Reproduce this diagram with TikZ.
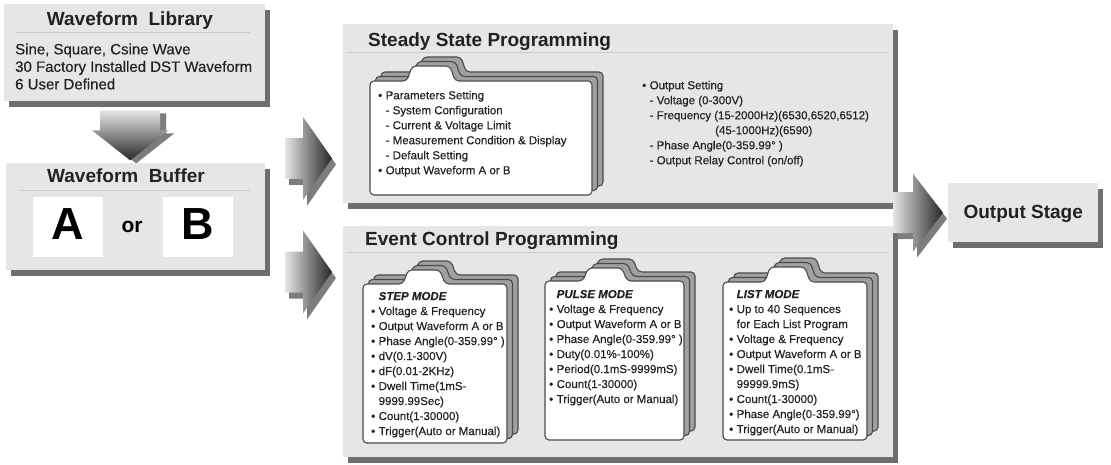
\documentclass[tikz,border=0pt]{standalone}
\usepackage{fontspec}
\setmainfont{Liberation Sans}
\newfontfamily\thickfont{Liberation Sans}[FakeBold=0.35]
\usetikzlibrary{shadows,calc}
\definecolor{panel}{HTML}{E6E6E6}
\definecolor{shade}{HTML}{6E6E6E}
\definecolor{ink}{HTML}{222222}
\definecolor{pageedge}{HTML}{4A4A4A}
\definecolor{backfill}{HTML}{A0A0A0}
\definecolor{sepline}{HTML}{CACACA}
\newcommand\bl{\makebox[7.5pt][l]{\textbullet}}
\newcommand\nb{\hspace*{7.5pt}}
\newcommand\folderpage[8]{%
  \draw[#8, rounded corners=4pt] ({#1},{#4}) -- ({#1},{#2}) -- ({#5},{#2}) -- ({#5+5},{#7}) -- ({#6},{#7}) -- ({#6+5},{#2}) -- ({#3},{#2}) -- ({#3},{#4}) -- cycle;}
\newcommand\folder[7]{%
  \folderpage{#1+11}{#2-9}{#3+11}{#4-9}{#5+11}{#6+11}{#7-9}{backpage}%
  \folderpage{#1+5.5}{#2-4.5}{#3+5.5}{#4-4.5}{#5+5.5}{#6+5.5}{#7-4.5}{backpage}%
  \folderpage{#1}{#2}{#3}{#4}{#5}{#6}{#7}{frontpage}}
\newcommand\rpath[6]{({#1},{#2-#5}) -- ({#1+#3},{#2-#5}) -- ({#1+#3},{#2-#6}) -- ({#1+#4},{#2}) -- ({#1+#3},{#2+#6}) -- ({#1+#3},{#2+#5}) -- ({#1},{#2+#5}) -- cycle}
\newcommand\dpath[6]{({#1-#5},{#2}) -- ({#1-#5},{#2+#3}) -- ({#1-#6},{#2+#3}) -- ({#1},{#2+#4}) -- ({#1+#6},{#2+#3}) -- ({#1+#5},{#2+#3}) -- ({#1+#5},{#2}) -- cycle}
\tikzset{
  panelbox/.style={fill=panel, inner sep=0pt, anchor=north west,
    drop shadow={shadow xshift=5pt, shadow yshift=-6pt, fill=shade, opacity=1}},
  ttl/.style={font=\fontsize{19}{22}\selectfont\bfseries, text=ink, inner sep=0pt, anchor=base west},
  libtxt/.style={font=\thickfont\fontsize{15}{17.5}\selectfont, text=ink, inner sep=0pt, anchor=north west, align=left},
  ftxt/.style={font=\thickfont\fontsize{11.5}{15}\selectfont, text=ink, inner sep=0pt, anchor=north west, align=left},
  bigletter/.style={font=\fontsize{45}{50}\selectfont\bfseries, text=black, inner sep=0pt, anchor=base},
  sepl/.style={draw=sepline, line width=0.8pt},
  frontpage/.style={draw=pageedge, line width=1.1pt, fill=white},
  backpage/.style={draw=pageedge, line width=1.1pt, fill=backfill},
  rarrowbody/.style={left color=gray!20, right color=black!85},
  darrowbody/.style={top color=gray!20, bottom color=black!85},
  arrowshadow/.style={fill=shade!90},
}
\begin{document}
\begin{tikzpicture}[x=1pt,y=-1pt]
\useasboundingbox (0,0) rectangle (1111,465);
% panels
\node[panelbox, minimum width=261pt, minimum height=97pt] (lib) at (4,4) {};
\node[panelbox, minimum width=259pt, minimum height=107pt] (buf) at (6,163) {};
\node[panelbox, minimum width=550pt, minimum height=179pt] (ss) at (343,24) {};
\node[panelbox, minimum width=550pt, minimum height=231pt] (ec) at (343,226) {};
\node[panelbox, minimum width=150pt, minimum height=59pt] (out) at (948,183) {};
% separators
\draw[sepl] (15,32) -- (250,32);
\draw[sepl] (20,190) -- (250,190);
\draw[sepl] (347,52) -- (888,52);
\draw[sepl] (347,252) -- (888,252);
% waveform library
\node[ttl, anchor=base] (libt) at (130,25.5) {Waveform\ \ Library};
\node[libtxt] (libx) at (15,43.3) {Sine, Square, Csine Wave\\30 Factory Installed DST Waveform\\6 User Defined};
% waveform buffer
\node[ttl, anchor=base] (buft) at (126,183) {Waveform\ \ Buffer};
\node[fill=white, inner sep=0pt, anchor=north west, minimum width=70pt, minimum height=60pt] (wa) at (33,197) {};
\node[fill=white, inner sep=0pt, anchor=north west, minimum width=70pt, minimum height=60pt] (wb) at (163,197) {};
\node[bigletter] (la) at (68,240) {A};
\node[bigletter] (lb) at (198,240) {B};
\node[font=\fontsize{21}{24}\selectfont\bfseries, text=black, inner sep=0pt, anchor=base] (lor) at (132,233) {or};
% steady state
\node[ttl] (sst) at (368,47) {Steady State Programming};
\folder{370}{81}{592}{195}{407}{450}{66}
\node[ftxt] (ssx) at (378,90.7) {\bl Parameters Setting\\\nb - System Configuration\\\nb - Current \& Voltage Limit\\\nb - Measurement Condition \& Display\\\nb - Default Setting\\\bl Output Waveform A or B};
\node[ftxt] (osx) at (642,80.7) {\bl Output Setting\\\nb - Voltage (0-300V)\\\nb - Frequency (15-2000Hz)(6530,6520,6512)\\\hspace*{73pt}(45-1000Hz)(6590)\\\nb - Phase Angle(0-359.99° )\\\nb - Output Relay Control (on/off)};
% event control
\node[ttl] (ect) at (365,246) {Event Control Programming};
\folder{363}{284}{507}{443}{403}{440}{270}
\folder{545}{281}{684}{440}{583}{622}{268}
\folder{723}{282}{867}{440}{765}{805}{267}
\node[ftxt] (stepx) at (371,291.8) {\nb\textbf{\textit{STEP MODE}}\\\bl Voltage \& Frequency\\\bl Output Waveform A or B\\\bl Phase Angle(0-359.99° )\\\bl dV(0.1-300V)\\\bl dF(0.01-2KHz)\\\bl Dwell Time(1mS-\\\nb 9999.99Sec)\\\bl Count(1-30000)\\\bl Trigger(Auto or Manual)};
\node[ftxt] (pulsex) at (549,289.8) {\nb\textbf{\textit{PULSE MODE}}\\\bl Voltage \& Frequency\\\bl Output Waveform A or B\\\bl Phase Angle(0-359.99° )\\\bl Duty(0.01\%-100\%)\\\bl Period(0.1mS-9999mS)\\\bl Count(1-30000)\\\bl Trigger(Auto or Manual)};
\node[ftxt] (listx) at (729,289.8) {\nb\textbf{\textit{LIST MODE}}\\\bl Up to 40 Sequences\\\nb for Each List Program\\\bl Voltage \& Frequency\\\bl Output Waveform A or B\\\bl Dwell Time(0.1mS-\\\nb 99999.9mS)\\\bl Count(1-30000)\\\bl Phase Angle(0-359.99°)\\\bl Trigger(Auto or Manual)};
% output stage
\node[ttl, anchor=base] (outt) at (out.center |- 0,218.5) {Output Stage};
% block arrows (connectors)
\coordinate (a1) at ($(ss.south west)+(-58,-45)$);
\coordinate (a2) at ($(ec.north west)+(-58,46)$);
\coordinate (a3) at ($(out.west)+(-55,0)$);
\coordinate (a4) at ($(lib.south)+(-4.5,9)$);
\begin{scope}[shift={(a1)}]
  \fill[arrowshadow] \rpath{4}{6}{18}{47}{20.5}{41.5};
  \path[rarrowbody] \rpath{0}{0}{18}{47}{20.5}{41.5};
\end{scope}
\begin{scope}[shift={(a2)}]
  \fill[arrowshadow] \rpath{4}{6}{18}{47}{20.5}{41.5};
  \path[rarrowbody] \rpath{0}{0}{18}{47}{20.5}{41.5};
\end{scope}
\begin{scope}[shift={(a3)}]
  \fill[arrowshadow] \rpath{4}{6}{20}{50}{20.5}{39};
  \path[rarrowbody] \rpath{0}{0}{20}{50}{20.5}{39};
\end{scope}
\begin{scope}[shift={(a4)}]
  \fill[arrowshadow] \dpath{6}{3}{20}{50}{30}{38};
  \path[darrowbody] \dpath{0}{0}{20}{50}{30}{38};
\end{scope}
\end{tikzpicture}
\end{document}
